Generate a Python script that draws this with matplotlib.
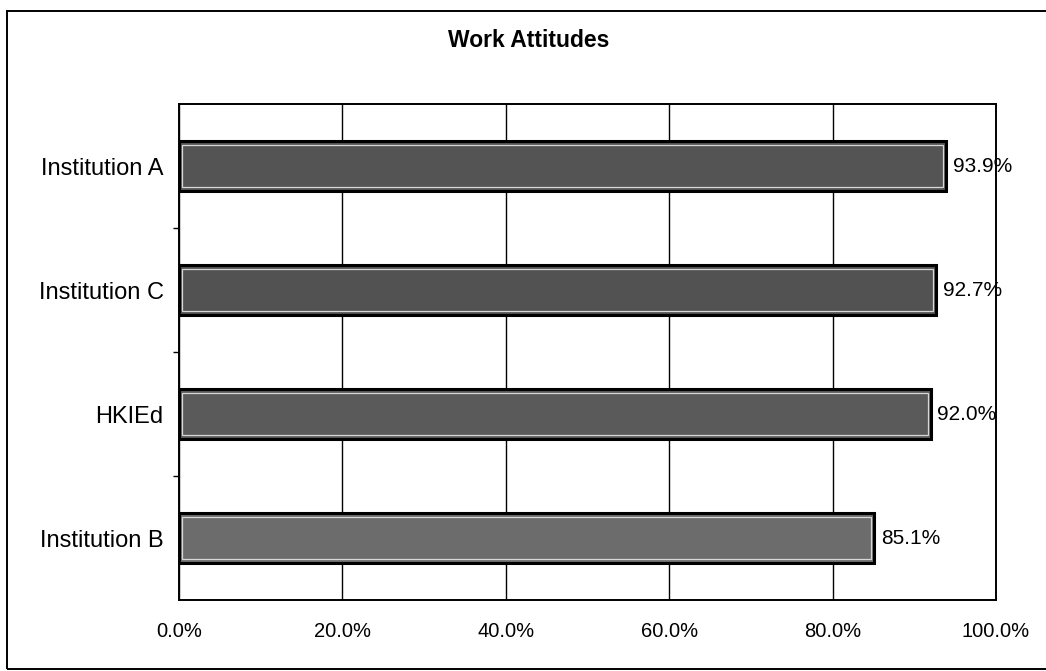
import matplotlib.pyplot as plt
from matplotlib.patches import Rectangle

# categories, bottom to top as drawn
categories = ['Institution B', 'HKIEd', 'Institution C', 'Institution A']
values = [85.1, 92.0, 92.7, 93.9]
bar_colors = ['#6c6c6c', '#5a5a5a', '#525252', '#545454']
xticks = [0, 20, 40, 60, 80, 100]

fig = plt.figure(figsize=(10.46, 6.71), dpi=100)
ax = fig.add_axes([0.1711, 0.1058, 0.7811, 0.7392])

pos = list(range(len(categories)))
# outer dark edge + inner light line to mimic the scanned bar outline
ax.barh(pos, values, height=0.40, color=bar_colors, edgecolor='black', linewidth=2.2, zorder=3)
ax.barh(pos, [v - 0.7 for v in values], height=0.345, left=0.35, color='none',
        edgecolor='#d8d8d8', linewidth=0.9, zorder=4)

for p, v in zip(pos, values):
    ax.text(v + 0.8, p, f'{v:.1f}%', va='center', ha='left', fontsize=15,
            family='Liberation Sans', zorder=5)

ax.set_xlim(0, 100)
ax.set_ylim(-0.5, 3.5)
ax.set_xticks(xticks)
ax.set_xticklabels([f'{x:.1f}%' for x in xticks], family='Liberation Sans', fontsize=14.5)
ax.tick_params(axis='x', length=0, pad=16)

ax.set_yticks(pos)
ax.set_yticklabels(categories, family='Liberation Sans', fontsize=17)
ax.tick_params(axis='y', length=0, pad=11)
# small tick marks at category boundaries
ax.set_yticks([0.5, 1.5, 2.5], minor=True)
ax.tick_params(axis='y', which='minor', length=4, width=1, direction='out')

ax.grid(axis='x', color='black', linewidth=1.0, zorder=0)
for s in ax.spines.values():
    s.set_linewidth(1.4)

fig.text(0.5057, 0.940, 'Work Attitudes', ha='center', va='center', fontsize=16.5,
         fontweight='bold', family='Liberation Sans')

# frame round the whole chart (right side runs off the scan)
fig.patches.append(Rectangle((0.0067, 0.003), 1.1, 0.981, transform=fig.transFigure,
                             fill=False, edgecolor='black', linewidth=1.4))

plt.savefig('out.png', dpi=100)
